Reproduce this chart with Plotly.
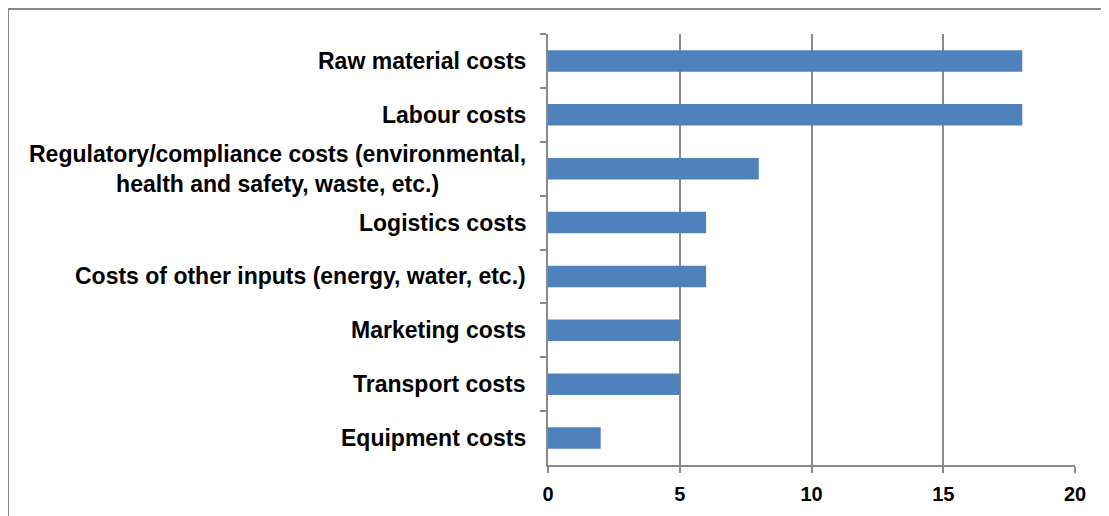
import plotly.graph_objects as go

categories = [
    "Raw material costs",
    "Labour costs",
    "Regulatory/compliance costs (environmental,<br>health and safety, waste, etc.)",
    "Logistics costs",
    "Costs of other inputs (energy, water, etc.)",
    "Marketing costs",
    "Transport costs",
    "Equipment costs",
]
values = [18, 18, 8, 6, 6, 5, 5, 2]
x_ticks = [0, 5, 10, 15, 20]

# page body has an 8px margin, so figure is placed at (8, 8)
W, H = 1101, 508
L, R, T, B = 540, 34, 26, 51
pw, ph = W - L - R, H - T - B

GRID = "#898989"
FONT = "Liberation Sans, Arial, sans-serif"

fig = go.Figure()
fig.add_trace(go.Bar(
    x=values, y=categories, orientation="h",
    marker=dict(color="#4F81BD", line=dict(width=0)),
    width=0.4,
))

for c in categories:
    fig.add_annotation(
        x=0, xref="paper", y=c, yref="y",
        text="<b>" + c + "</b>", showarrow=False,
        xanchor="right", yanchor="middle", align="center",
        xshift=-20, font=dict(family=FONT, size=23, color="#000"),
    )

# outer chart-area border (top and left visible)
fig.add_shape(type="line", xref="paper", yref="paper",
              x0=(0 - L) / pw, x1=(W + 5 - L) / pw,
              y0=(H - B - 1) / ph, y1=(H - B - 1) / ph,
              line=dict(color=GRID, width=2))
fig.add_shape(type="line", xref="paper", yref="paper",
              x0=(0 - L) / pw, x1=(0 - L) / pw,
              y0=(H - B - 1) / ph, y1=(-B - 5) / ph,
              line=dict(color=GRID, width=2))

fig.update_layout(
    width=W, height=H,
    margin=dict(l=L, r=R, t=T, b=B, pad=0),
    paper_bgcolor="white", plot_bgcolor="white",
    showlegend=False,
    bargap=0.6,
    xaxis=dict(
        range=[0, 20], tickvals=x_ticks, ticktext=[str(v) for v in x_ticks],
        showgrid=True, gridcolor=GRID, gridwidth=2,
        showline=True, linecolor=GRID, linewidth=2,
        ticks="outside", ticklen=6, tickcolor=GRID, tickwidth=2,
        ticklabelstandoff=4,
        zeroline=False,
        tickfont=dict(family=FONT, size=20, color="#000", weight="bold"),
        fixedrange=True,
    ),
    yaxis=dict(
        type="category", categoryorder="array", categoryarray=categories,
        autorange="reversed",
        showticklabels=False,
        showline=True, linecolor=GRID, linewidth=2,
        ticks="outside", ticklen=6, tickcolor=GRID, tickwidth=2,
        tickson="boundaries", showgrid=False,
        fixedrange=True,
    ),
)

fig.write_html("out.html")
